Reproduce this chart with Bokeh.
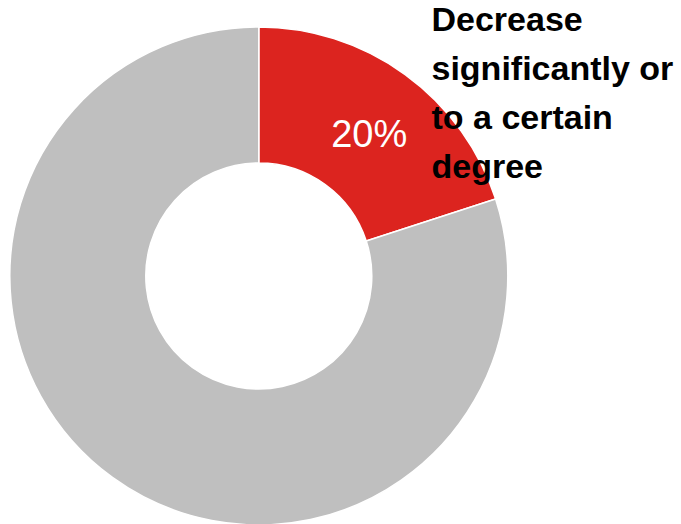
import math
from bokeh.plotting import figure
from bokeh.models import Range1d, ColumnDataSource
from bokeh.core.properties import value
from bokeh.embed import file_html
from bokeh.resources import INLINE

# ---- data ----
categories = ["Decrease significantly or to a certain degree", "Other"]
values = [20, 80]
colors = ["#DC241F", "#BFBFBF"]
pct_labels = ["20%", ""]
label_lines = ["Decrease", "significantly or", "to a certain", "degree"]

# ---- geometry (picture pixel space, y up) ----
W, H = 681, 524
cx, cy = 258.3, 524 - 275.5
r_out, r_in = 249, 113

total = sum(values)
starts, ends = [], []
cum = 0
for v in values:
    ends.append(math.pi / 2 - 2 * math.pi * cum / total)
    cum += v
    starts.append(math.pi / 2 - 2 * math.pi * cum / total)

src = ColumnDataSource(dict(
    cat=categories, val=values, color=colors,
    start=starts, end=ends,
    x=[cx] * len(values), y=[cy] * len(values),
))

p = figure(width=W, height=H, x_range=Range1d(0, W), y_range=Range1d(524 - H, 524),
           x_axis_location=None, y_axis_location=None, toolbar_location=None,
           output_backend="svg", min_border=0, outline_line_color=None,
           background_fill_color="white", border_fill_color="white")
p.grid.visible = False

p.annular_wedge(x="x", y="y", inner_radius=r_in, outer_radius=r_out,
                start_angle="start", end_angle="end", direction="anticlock",
                fill_color="color", line_color="white", line_width=1.5, source=src)

# percentage label in the middle of the red slice
mid = (starts[0] + ends[0]) / 2
r_mid = (r_in + r_out) / 2
p.text(x=[cx + r_mid * math.cos(mid)], y=[cy + r_mid * math.sin(mid)], text=[pct_labels[0]],
       text_font=value("Liberation Sans"), text_font_size="38px", text_color="white",
       text_align="center", text_baseline="middle", x_offset=4, y_offset=4)

# category label, wrapped into lines
lx = 431
base0 = 524 - 18
lh = 49.3
p.text(x=[lx] * len(label_lines), y=[base0 - i * lh for i in range(len(label_lines))],
       text=label_lines, text_font=value("Liberation Sans"), text_font_style="bold",
       text_font_size="34px", text_color="black", text_align="left",
       text_baseline="alphabetic")

open("out.html", "w").write(file_html(p, INLINE))
